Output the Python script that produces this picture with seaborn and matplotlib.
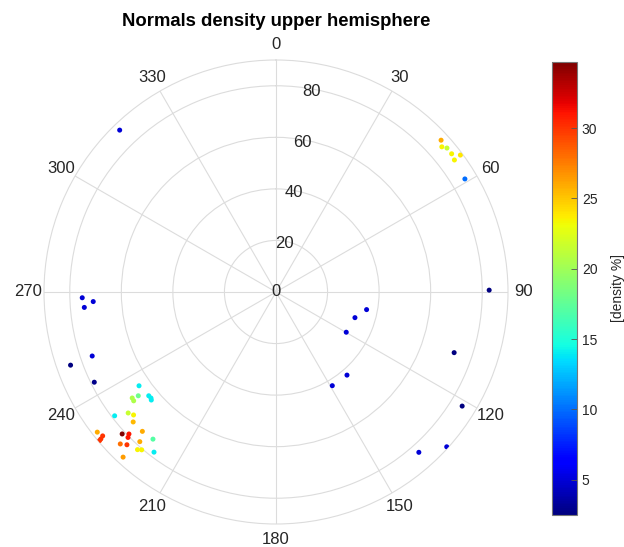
import numpy as np
import pandas as pd
import matplotlib
matplotlib.use("Agg")
import matplotlib.pyplot as plt
import seaborn as sns

plt.rcParams['font.family'] = ['Liberation Sans', 'DejaVu Sans']

# ---- data ----
theta_deg = [316.0, 268.3, 267.0, 265.4, 250.8, 250.4, 243.6,
             235.6, 233.6, 232.6, 233.0, 230.8, 229.7, 229.1, 232.5, 230.7, 229.2, 227.7,
             231.9, 230.3, 230.0, 229.9, 227.3, 226.0, 225.5, 224.3, 223.8, 222.3, 225.7,
             219.9, 221.3, 220.4, 217.3, 222.8,
             89.5, 101.0, 108.0, 119.8, 139.5, 149.0, 108.8, 121.5, 132.2, 138.3,
             47.4, 48.8, 49.9, 51.8, 53.4, 53.5, 59.1]
radius = [87.3, 75.2, 71.0, 74.6, 75.5, 84.6, 78.7,
          64.4, 69.3, 69.5, 66.9, 63.7, 63.6, 64.0, 78.9, 74.1, 73.0, 74.9,
          88.1, 87.4, 88.7, 89.5, 81.2, 79.3, 80.5, 82.8, 74.9, 78.5, 84.4,
          74.4, 81.4, 80.4, 78.1, 87.3,
          82.7, 35.8, 32.2, 31.4, 42.4, 42.4, 73.0, 84.7, 89.4, 83.3,
          87.0, 85.5, 86.7, 86.7, 89.1, 86.1, 85.4]
density = [5.0, 5.0, 5.0, 5.0, 5.0, 2.6, 2.8,
           14.0, 20.5, 20.5, 18.0, 14.0, 14.0, 14.0, 14.0, 21.5, 23.5, 25.5,
           26.0, 30.0, 30.0, 30.0, 34.7, 31.0, 31.0, 30.0, 26.0, 26.0, 28.0,
           17.0, 23.5, 23.5, 14.0, 26.5,
           2.5, 5.0, 5.0, 5.0, 5.0, 5.0, 2.6, 2.6, 5.0, 5.0,
           26.0, 23.5, 21.5, 23.5, 24.0, 23.5, 10.0]

theta_labels = ['0', '30', '60', '90', '120', '150', '180', '210', '240', '270', '300', '330']
r_ticks = [0, 20, 40, 60, 80]
cbar_ticks = [5, 10, 15, 20, 25, 30]

df = pd.DataFrame({'theta': np.deg2rad(theta_deg), 'r': radius, 'density': density})
vmin, vmax = min(density), max(density)
jet = matplotlib.colormaps['jet']

W, H = 624, 547
fig = plt.figure(figsize=(W / 100, H / 100), dpi=100)
fig.patch.set_facecolor('white')

cx, cy, R = 276, 292, 232
ax = fig.add_axes([(cx - R) / W, (H - cy - R) / H, 2 * R / W, 2 * R / H], projection='polar')
ax.set_theta_zero_location('N')
ax.set_theta_direction(-1)

sns.scatterplot(data=df, x='theta', y='r', hue='density', palette=jet,
                hue_norm=(vmin, vmax), s=13, linewidth=0, legend=False, ax=ax, zorder=3)

ax.set_ylim(0, 90)
ax.set_yticks(r_ticks)
ax.set_yticklabels([])
ax.set_xticks(np.deg2rad(np.arange(0, 360, 30)))
ax.set_xticklabels(theta_labels)
ax.set_xlabel('')
ax.set_ylabel('')
grid_c = '#dcdcdc'
ax.grid(True, color=grid_c, linewidth=0.8)
ax.spines['polar'].set_color(grid_c)
ax.spines['polar'].set_linewidth(0.8)
ax.tick_params(axis='x', labelsize=12, colors='#262626', pad=1)

# radial labels centred on the rings at ~10 degrees
for t in r_ticks:
    ax.text(np.deg2rad(10 if t else 0), t - 1 if t else 0, str(t), ha='center', va='center',
            fontsize=12, color='#262626', zorder=2)

fig.text(cx / W, 1 - 22 / H, 'Normals density upper hemisphere', ha='center', va='center',
         fontsize=13.3, fontweight='bold', color='black')

cax = fig.add_axes([552 / W, (H - 515) / H, 25 / W, (515 - 62) / H])
sm = plt.cm.ScalarMappable(cmap=jet, norm=plt.Normalize(vmin, vmax))
cb = fig.colorbar(sm, cax=cax)
cb.set_ticks(cbar_ticks)
cb.ax.tick_params(direction='in', length=4, width=0.6, color='#555555', labelsize=10,
                  labelcolor='#262626')
cb.outline.set_edgecolor('#777777')
cb.outline.set_linewidth(0.8)
cb.set_label('[density %]', fontsize=10, color='#262626', labelpad=10)

fig.savefig('out.png', dpi=100, facecolor='white')
